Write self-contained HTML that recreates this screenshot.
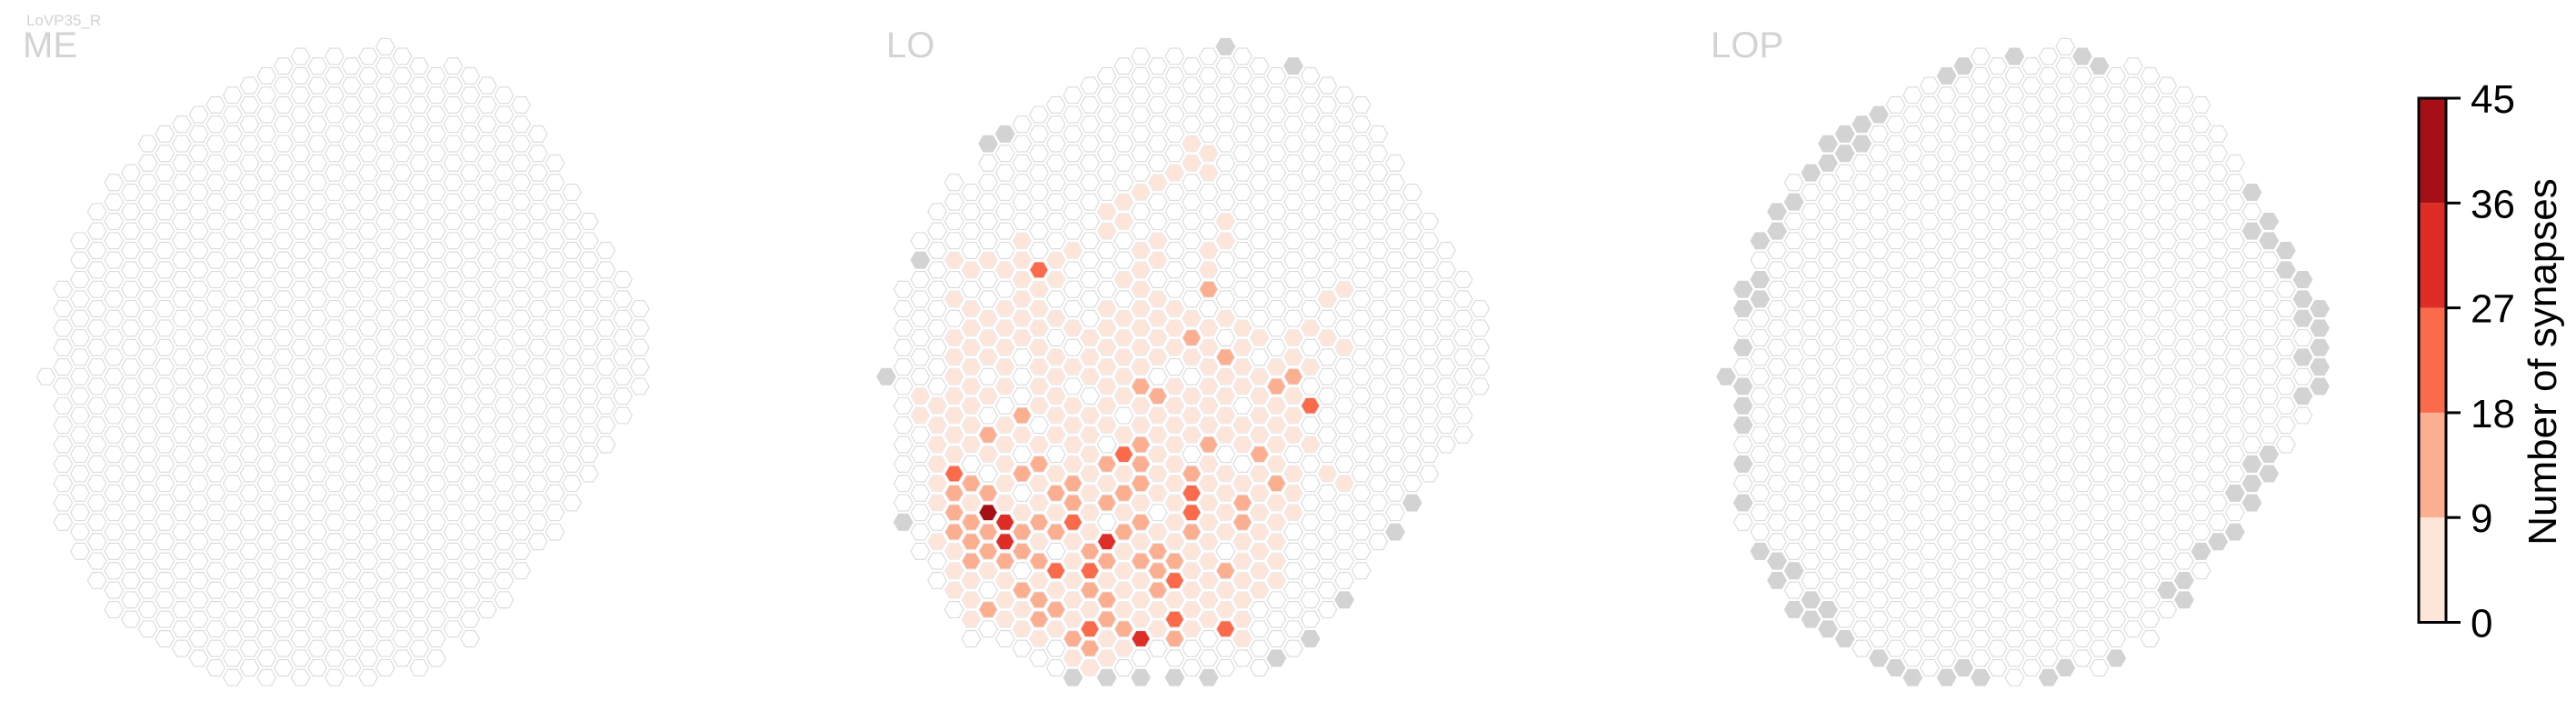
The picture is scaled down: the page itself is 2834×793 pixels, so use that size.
<!DOCTYPE html>
<html><head><meta charset="utf-8"><style>
html,body{margin:0;padding:0;background:#fff;}
svg{display:block;font-family:"Liberation Sans",Arial,sans-serif;}
</style></head><body>
<svg id="chart" width="2834" height="793" viewBox="0 0 2834 793" xmlns="http://www.w3.org/2000/svg">
<text x="29" y="28" font-size="17" fill="#d3d3d3">LoVP35_R</text>
<g id="panels"></g>
<g id="colorbar"></g>
</svg>
<script>
// ---- data ----
const panelNames = ["ME", "LO", "LOP"];
const binEdges = [0, 9, 18, 27, 36, 45];
const binColors = ["#fee5d9", "#fcae91", "#fb6a4a", "#de2d26", "#a50f15"];
const tickLabels = ["0", "9", "18", "27", "36", "45"];
// ME column extents: [startRow, endRow] per column
const meExtents = [[17,17],[12,24],[10,26],[8,27],[7,29],[6,29],[5,30],[4,30],[4,31],[3,31],[3,32],[2,32],[2,32],[1,32],[1,32],[0,32],[1,32],[0,32],[1,32],[0,32],[0,32],[0,31],[1,32],[1,31],[1,30],[1,30],[2,29],[2,28],[3,27],[4,25],[6,25],[7,23],[9,22],[10,20],[12,19],[13,17]];
// LO: per column start row and bin codes (0 = no synapses, 1-5 = bin, g = no data)
const loStarts = [17,12,10,8,7,7,5,4,4,3,3,2,2,1,1,0,1,0,1,0,0,0,1,1,1,1,2,2,3,4,6,7,9,10,12,13];
const loCodes = [
"g",
"000000000000g",
"0g000000110000000",
"00000000001111110100",
"00001010111111132221110",
"000010111111110212221110",
"g0000010011101021025221020",
"g00000010111110111114421110",
"0000001111110002102012202110",
"00000000311111110121121212210",
"000000001101011111012120312100",
"000000001000101011112231111121g",
"0000000000000111011111112321321",
"0000000110001111111021204212211g",
"00000001100101111101312121111210",
"00000001001111111211222121211140g",
"0000001001101111021111101222110",
"00000010000001110111111111231320g",
"00001100000001210111023321111100",
"00000110001120111111211111111100g",
"g00000000110001021111011110211300",
"00000000000000111101101221111110",
"00000000000000101111211111110000",
"000000000000000121111211111000g",
"g000000000000011211101110000000",
"00000000000001010301000000000g",
"0000000000010100000010000000",
"00000000001001000000100000g",
"0000000000000000000000000",
"0000000000000000000000",
"0000000000000000000g",
"0000000000000000g",
"00000000000000",
"00000000000",
"000000000",
"00000"];
// LOP: cells without data [column, row]
const lopGray = [[0,17],[1,12],[1,13],[1,15],[1,17],[1,18],[1,19],[1,21],[1,23],[2,10],[2,12],[2,13],[2,26],[3,8],[3,9],[3,26],[3,27],[4,8],[4,27],[4,29],[5,6],[5,28],[5,29],[6,5],[6,6],[6,29],[6,30],[7,4],[7,5],[7,30],[8,4],[8,5],[9,3],[9,31],[10,32],[11,32],[13,1],[13,32],[14,1],[14,32],[15,32],[17,0],[19,32],[20,32],[21,0],[22,1],[23,31],[26,28],[27,27],[27,28],[28,26],[29,25],[30,25],[30,23],[31,7],[31,9],[31,21],[31,22],[31,23],[32,9],[32,10],[32,21],[32,22],[33,10],[33,11],[34,12],[34,13],[34,14],[34,16],[34,18],[35,13],[35,14],[35,15],[35,16],[35,17]];

// ---- layout ----
const panelX0 = [50.7, 975.1, 1899];
const labelX = [25, 975, 1882];
const colStep = 18.66, rowStep = 21.35, yEven = 51.3, yOdd = 62.0, R = 10.3;
const NS = "http://www.w3.org/2000/svg";
const panels = document.getElementById("panels");
function colorFor(code){
  if (code === "g") return "#d3d3d3";
  const v = +code;
  return v === 0 ? "#ffffff" : binColors[v-1];
}
function hexPts(cx, cy){
  const p = [];
  for (let i = 0; i < 6; i++){ const a = Math.PI/3*i; p.push((cx+R*Math.cos(a)).toFixed(2)+","+(cy+R*Math.sin(a)).toFixed(2)); }
  return p.join(" ");
}
function cellXY(p, c, k){ return [panelX0[p] + colStep*c, (c%2===0 ? yEven : yOdd) + rowStep*k]; }
function drawCell(g, p, c, k, code){
  const [x, y] = cellXY(p, c, k);
  const h = document.createElementNS(NS, "polygon");
  h.setAttribute("points", hexPts(x, y));
  h.setAttribute("fill", colorFor(code));
  h.setAttribute("stroke", code === "g" ? "#d3d3d3" : (code === "0" ? "#dadada" : "#ececec"));
  h.setAttribute("stroke-width", "1.1");
  
  
  g.appendChild(h);
}
panelNames.forEach((name, p) => {
  const g = document.createElementNS(NS, "g");
  
  
  panels.appendChild(g);
  const t = document.createElementNS(NS, "text");
  t.setAttribute("x", labelX[p]); t.setAttribute("y", 63);
  t.setAttribute("font-size", "40"); t.setAttribute("fill", "#d3d3d3");
  t.textContent = name;
  
  
  g.appendChild(t);
  if (p === 0){
    meExtents.forEach((e, c) => { for (let k = e[0]; k <= e[1]; k++) drawCell(g, p, c, k, "0"); });
  } else if (p === 1){
    loCodes.forEach((s, c) => { for (let i = 0; i < s.length; i++) drawCell(g, p, c, loStarts[c]+i, s[i]); });
  } else {
    const grayset = new Set(lopGray.map(a => a[0]+"_"+a[1]));
    meExtents.forEach((e, c) => {
      let lo = e[0], hi = e[1];
      lopGray.forEach(a => { if (a[0] === c){ lo = Math.min(lo, a[1]); hi = Math.max(hi, a[1]); } });
      for (let k = lo; k <= hi; k++) drawCell(g, p, c, k, grayset.has(c+"_"+k) ? "g" : "0");
    });
  }
});
// ---- colorbar ----
const cb = document.getElementById("colorbar");
const cbX = 2661, cbW = 30, cbTop = 108, cbBot = 684.5;
const yScale = v => cbBot - (v - binEdges[0]) / (binEdges[binEdges.length-1] - binEdges[0]) * (cbBot - cbTop);
binColors.forEach((col, i) => {
  const r = document.createElementNS(NS, "rect");
  r.setAttribute("x", cbX); r.setAttribute("width", cbW);
  r.setAttribute("y", yScale(binEdges[i+1])); r.setAttribute("height", yScale(binEdges[i]) - yScale(binEdges[i+1]));
  r.setAttribute("fill", col);
  
  
  cb.appendChild(r);
});
const frame = document.createElementNS(NS, "rect");
frame.setAttribute("x", cbX); frame.setAttribute("y", cbTop); frame.setAttribute("width", cbW); frame.setAttribute("height", cbBot-cbTop);
frame.setAttribute("fill", "none"); frame.setAttribute("stroke", "#000"); frame.setAttribute("stroke-width", "3");


cb.appendChild(frame);
tickLabels.forEach((lab, i) => {
  const y = yScale(binEdges[i]);
  const l = document.createElementNS(NS, "line");
  l.setAttribute("x1", cbX+cbW); l.setAttribute("x2", cbX+cbW+16); l.setAttribute("y1", y); l.setAttribute("y2", y);
  l.setAttribute("stroke", "#000"); l.setAttribute("stroke-width", "3");
  
  
  cb.appendChild(l);
  const t = document.createElementNS(NS, "text");
  t.setAttribute("x", cbX+cbW+27); t.setAttribute("y", y+16);
  t.setAttribute("font-size", "44"); t.setAttribute("fill", "#000");
  t.textContent = lab;
  
  
  cb.appendChild(t);
});
const ttl = document.createElementNS(NS, "text");
ttl.setAttribute("transform", "translate(2812,398) rotate(-90)");
ttl.setAttribute("text-anchor", "middle"); ttl.setAttribute("font-size", "44"); ttl.setAttribute("fill", "#000");
ttl.textContent = "Number of synapses";


cb.appendChild(ttl);
</script>
</body></html>
